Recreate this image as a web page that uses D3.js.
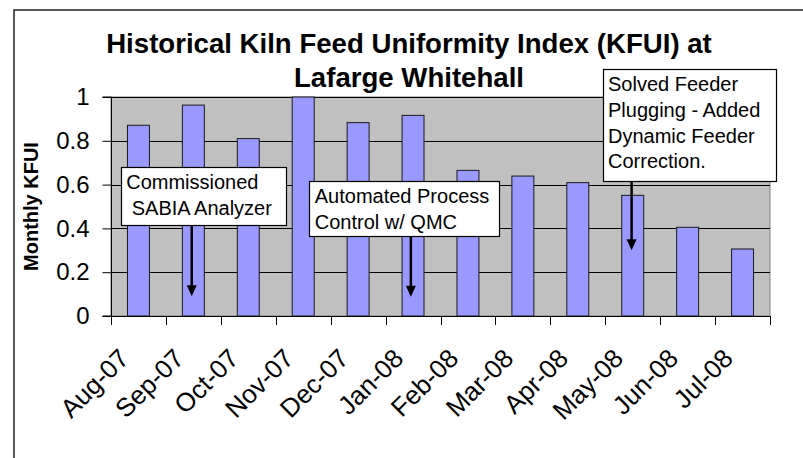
<!DOCTYPE html>
<html lang="en">
<head>
<meta charset="UTF-8">
<title>KFUI</title>
<style>
    body { margin: 0; background: #fff; }
    svg { display: block; font-family: "Liberation Sans", Arial, sans-serif; }
</style>
</head>
<body>
<script src="https://cdnjs.cloudflare.com/ajax/libs/d3/7.8.5/d3.min.js"></script>
<script>

let months = ["Aug-07", "Sep-07", "Oct-07", "Nov-07", "Dec-07", "Jan-08",
              "Feb-08", "Mar-08", "Apr-08", "May-08", "Jun-08", "Jul-08"]
let kfui = [0.871, 0.963, 0.81, 1.0, 0.883, 0.916, 0.665, 0.639, 0.609, 0.551, 0.405, 0.306]
let yTicks = [0, 0.2, 0.4, 0.6, 0.8, 1]

// annotation boxes: x in category units, y in KFUI units
let notes = [
    {lines: ["Commissioned", " SABIA Analyzer"], x0: 0.177, x1: 3.18, y0: 0.679, y1: 0.412, arrowX: 1.47, tip: 0.09},
    {lines: ["Automated Process", "Control w/ QMC"], x0: 3.61, x1: 7.07, y0: 0.616, y1: 0.367, arrowX: 5.46, tip: 0.088},
    {lines: ["Solved Feeder", "Plugging - Added", "Dynamic Feeder", "Correction."], x0: 8.95, x1: 12.1, y0: 1.128, y1: 0.618, arrowX: 9.48, tip: 0.3}
]

let width = 803, height = 458
let plot = {left: 111, right: 770, top: 97, bottom: 316}

let svg = d3.select("body").append("svg")
    .attr("width", width)
    .attr("height", height)

// chart border
svg.append("rect")
    .attr("x", 14).attr("y", 10)
    .attr("width", 800).attr("height", 460)
    .attr("fill", "#fff")
    .attr("stroke", "#222")
    .attr("stroke-width", 1.5)

let x = d3.scaleBand()
    .domain(months)
    .range([plot.left, plot.right])
    .paddingInner(0.6)
    .paddingOuter(0.3)
let xi = d3.scaleLinear().domain([0, months.length]).range([plot.left, plot.right])
let y = d3.scaleLinear().domain([0, 1]).range([plot.bottom, plot.top])

svg.append("rect")
    .attr("x", plot.left).attr("y", plot.top)
    .attr("width", plot.right - plot.left).attr("height", plot.bottom - plot.top)
    .attr("fill", "#c0c0c0")
    .attr("stroke", "#808080")

// gridlines
svg.append("g")
    .selectAll("line")
    .data(yTicks.filter(d => d > 0))
    .enter().append("line")
        .attr("x1", plot.left).attr("x2", plot.right)
        .attr("y1", d => Math.round(y(d)) + 0.5).attr("y2", d => Math.round(y(d)) + 0.5)
        .attr("stroke", "#000")

// bars
svg.append("g")
    .selectAll("rect")
    .data(kfui)
    .enter().append("rect")
        .attr("x", (d, i) => x(months[i]))
        .attr("y", d => y(d))
        .attr("width", x.bandwidth())
        .attr("height", d => y(0) - y(d))
        .attr("fill", "#9999ff")
        .attr("stroke", "#1a1a1a")
        .attr("stroke-width", 1)

// y axis
let yAxis = d3.axisLeft(y)
    .tickValues(yTicks)
    .tickFormat(d3.format("~g"))
    .tickSize(9)
    .tickPadding(13)
let ya = svg.append("g")
    .attr("transform", `translate(${plot.left + 0.5},0)`)
    .call(yAxis)
ya.select(".domain").attr("stroke", "#000").attr("d", `M-9,${plot.top}H0V${plot.bottom}H-9`)
ya.selectAll("text").attr("font-size", 24).attr("fill", "#000").style("font-family", "Liberation Sans, Arial, sans-serif")
ya.selectAll("line").attr("stroke", "#000")

// x axis (ticks at category boundaries)
let xa = svg.append("g")
xa.append("line")
    .attr("x1", plot.left).attr("x2", plot.right)
    .attr("y1", plot.bottom + 0.5).attr("y2", plot.bottom + 0.5)
    .attr("stroke", "#000")
xa.selectAll(".tk")
    .data(d3.range(months.length + 1))
    .enter().append("line")
        .attr("x1", d => Math.round(xi(d)) + 0.5).attr("x2", d => Math.round(xi(d)) + 0.5)
        .attr("y1", plot.bottom).attr("y2", plot.bottom + 9)
        .attr("stroke", "#000")
xa.selectAll("text")
    .data(months)
    .enter().append("text")
        .attr("transform", (d, i) => `translate(${xi(i + 0.5) - 8},${plot.bottom + 44}) rotate(-45)`)
        .attr("text-anchor", "end")
        .attr("font-size", 26)
        .text(d => d)

// axis title
svg.append("text")
    .attr("transform", `translate(38,${(plot.top + plot.bottom) / 2}) rotate(-90)`)
    .attr("text-anchor", "middle")
    .attr("font-size", 20)
    .attr("font-weight", "bold")
    .text("Monthly KFUI")

// title
let title = ["Historical Kiln Feed Uniformity Index (KFUI) at", "Lafarge Whitehall"]
svg.selectAll(".title")
    .data(title)
    .enter().append("text")
        .attr("class", "title")
        .attr("x", 409)
        .attr("y", (d, i) => 53 + i * 34)
        .attr("text-anchor", "middle")
        .attr("font-size", 27.6)
        .attr("font-weight", "bold")
        .text(d => d)

// annotations
let ng = svg.append("g")
notes.forEach(n => {
    let bx = xi(n.x0), by = y(n.y0)
    ng.append("line")
        .attr("x1", xi(n.arrowX)).attr("x2", xi(n.arrowX))
        .attr("y1", y(n.y1)).attr("y2", y(n.tip) - 9)
        .attr("stroke", "#000")
        .attr("stroke-width", 2.5)
    ng.append("path")
        .attr("d", `M${xi(n.arrowX) - 5},${y(n.tip) - 11}L${xi(n.arrowX) + 5},${y(n.tip) - 11}L${xi(n.arrowX)},${y(n.tip)}Z`)
        .attr("fill", "#000")
    ng.append("rect")
        .attr("x", Math.round(bx) + 0.5).attr("y", Math.round(by) + 0.5)
        .attr("width", Math.round(xi(n.x1) - bx)).attr("height", Math.round(y(n.y1) - by))
        .attr("fill", "#fff")
        .attr("stroke", "#000")
        .attr("stroke-width", 1.2)
    ng.selectAll(null)
        .data(n.lines)
        .enter().append("text")
            .attr("x", bx + 5.5)
            .attr("y", (d, i) => by + 22 + i * 25.8)
            .attr("font-size", 20)
            .style("white-space", "pre")
            .text(d => d)
})

</script>
</body>
</html>
